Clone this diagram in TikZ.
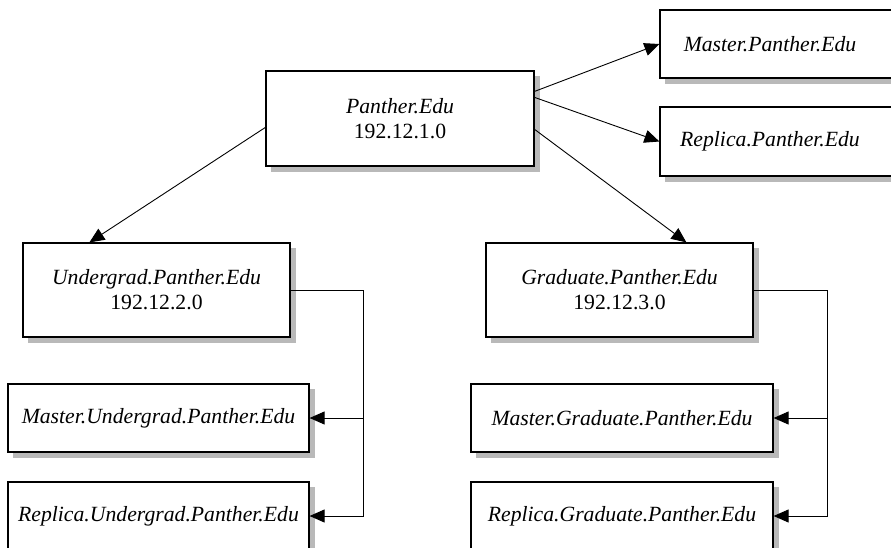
\documentclass[tikz,border=0pt]{standalone}
\usepackage{fontspec}
\setmainfont{Liberation Serif}
\usetikzlibrary{arrows.meta,calc}
\definecolor{shadowgray}{RGB}{185,185,185}
\begin{document}
\begin{tikzpicture}[x=1pt,y=-1pt,
  box/.style={draw, line width=1.2pt, fill=white, inner sep=0pt,
    font=\fontsize{21.7}{25}\selectfont, align=center},
  shade box/.style={fill=shadowgray, draw=none},
  conn/.style={line width=0.9pt, -{Triangle[length=15pt,width=13pt]}}]
\useasboundingbox (0,0) rectangle (891,548);
\clip (0,0) rectangle (891,548);
\fill[shade box] (271,76) rectangle (539.6,171.6);
\fill[shade box] (665,15) rectangle (900,83.6);
\fill[shade box] (665,112) rectangle (900,181.6);
\fill[shade box] (28,248) rectangle (295.6,342.6);
\fill[shade box] (491,248) rectangle (758.6,342.6);
\fill[shade box] (13,389) rectangle (314.6,457.6);
\fill[shade box] (13,487) rectangle (314.6,560);
\fill[shade box] (476,389) rectangle (778.6,457.6);
\fill[shade box] (476,487) rectangle (778.6,560);
\node[box, minimum width=268pt, minimum height=95pt] (top) at (400,118.5) {\textit{Panther.Edu}\\192.12.1.0};
\node[box, minimum width=240pt, minimum height=68pt] (mp) at (780,44) {\textit{Master.Panther.Edu}\hspace{20pt}};
\node[box, minimum width=240pt, minimum height=69pt] (rp) at (780,141.5) {\textit{Replica.Panther.Edu}\hspace{20pt}};
\node[box, minimum width=267pt, minimum height=94pt] (ug) at (156.5,290) {\textit{Undergrad.Panther.Edu}\\192.12.2.0};
\node[box, minimum width=267pt, minimum height=94pt] (gr) at (619.5,290) {\textit{Graduate.Panther.Edu}\\192.12.3.0};
\node[box, minimum width=301pt, minimum height=68pt] (mug) at (158.5,418) {\textit{Master.Undergrad.Panther.Edu}};
\node[box, minimum width=301pt, minimum height=68pt] (rug) at (158.5,516) {\textit{Replica.Undergrad.Panther.Edu}};
\node[box, minimum width=302pt, minimum height=68pt] (mgr) at (622,418) {\textit{Master.Graduate.Panther.Edu}};
\node[box, minimum width=302pt, minimum height=68pt] (rgr) at (622,516) {\textit{Replica.Graduate.Panther.Edu}};
\draw[conn] ($(top.north east)+(0,21)$) -- (mp.west);
\draw[conn] ($(top.north east)+(0,27)$) -- (rp.west);
\draw[conn] ($(top.north east)+(0,59)$) -- ($(gr.north west)+(201,0)$);
\draw[conn] ($(top.north west)+(0,57)$) -- ($(ug.north west)+(67,0)$);
\draw[conn] (ug.east) -- ++(73,0) |- (mug.east);
\draw[conn] (ug.east) -- ++(73,0) |- (rug.east);
\draw[conn] (gr.east) -- ++(74,0) |- (mgr.east);
\draw[conn] (gr.east) -- ++(74,0) |- (rgr.east);
\end{tikzpicture}
\end{document}
